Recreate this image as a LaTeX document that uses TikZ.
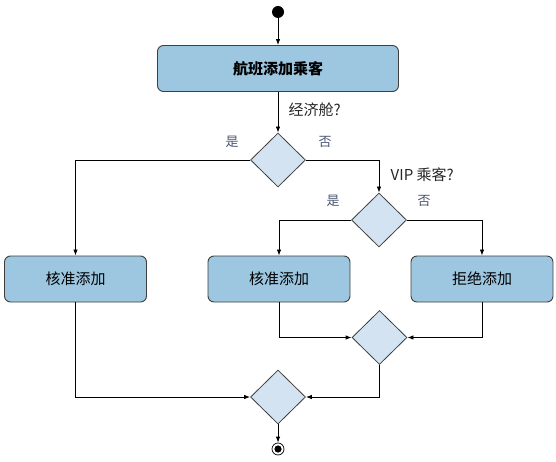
\documentclass[tikz,border=0pt]{standalone}
\usepackage{fontspec}
\setmainfont{Noto Sans CJK SC}
\usepackage{xcolor}
\usetikzlibrary{positioning, arrows.meta, shapes.geometric}

\definecolor{boxfill}{HTML}{9DC6E0}
\definecolor{diafill}{HTML}{D3E3F1}
\definecolor{edgegray}{HTML}{3F3F3F}
\definecolor{answer}{HTML}{4A5570}

\tikzset{
    action/.style={rectangle, rounded corners=6pt, draw=edgegray, fill=boxfill,
        line width=0.9pt, minimum width=142pt, minimum height=46pt,
        font=\fontsize{15}{18}\selectfont},
    choice/.style={diamond, draw=edgegray, fill=diafill, line width=0.8pt,
        minimum width=55pt, minimum height=54pt, inner sep=0pt},
    arr/.style={-{Latex[length=6pt, width=4.5pt]}, line width=0.8pt},
    question/.style={font=\fontsize{15}{17}\selectfont, text=black!85},
    answer/.style={font=\fontsize{13}{15}\selectfont, text=answer},
    initial/.style={circle, fill=black, minimum size=12pt, inner sep=0pt},
    final/.style={circle, draw, line width=0.7pt, minimum size=12pt, inner sep=0pt,
        path picture={\fill (path picture bounding box.center) circle (3.6pt);}}
}

\begin{document}
\begin{tikzpicture}[x=1pt, y=-1pt]
    \useasboundingbox (0,0) rectangle (556,462);

    % nodes
    \node[initial] (start) at (278,12) {};
    \node[action, minimum width=241pt, font=\fontsize{15}{18}\selectfont\bfseries] (add) at (278,68.5) {航班添加乘客};
    \node[choice] (economy) at (278,160) {};
    \node[choice] (vip) at (379,220) {};
    \node[action] (okEco) at (75.5,279) {核准添加};
    \node[action] (okVip) at (279,279) {核准添加};
    \node[action] (reject) at (482,279) {拒绝添加};
    \node[choice] (mergeVip) at (379.5,337.5) {};
    \node[choice] (mergeAll) at (278,397) {};
    \node[final] (stop) at (278,449) {};

    % branch labels
    \node[answer] (ecoYes) at (232,142) {是};
    \node[answer] (ecoNo) at (325,142) {否};
    \node[answer] (vipYes) at (333,201) {是};
    \node[answer] (vipNo) at (424,201) {否};

    % connectors
    \draw[arr] (start) -- (add);
    \draw[arr] (add) -- node[question, right=7pt, pos=0.45] {经济舱?} (economy);
    \draw[arr] (economy.west) -| (okEco.north);
    \draw[arr] (economy.east) -| node[question, pos=0.72, right=8pt] {VIP 乘客?} (vip.north);
    \draw[arr] (vip.west) -| (okVip.north);
    \draw[arr] (vip.east) -| (reject.north);
    \draw[arr] (okVip.south) |- (mergeVip.west);
    \draw[arr] (reject.south) |- (mergeVip.east);
    \draw[arr] (okEco.south) |- (mergeAll.west);
    \draw[arr] (mergeVip.south) |- (mergeAll.east);
    \draw[arr] (mergeAll) -- (stop);
\end{tikzpicture}
\end{document}
